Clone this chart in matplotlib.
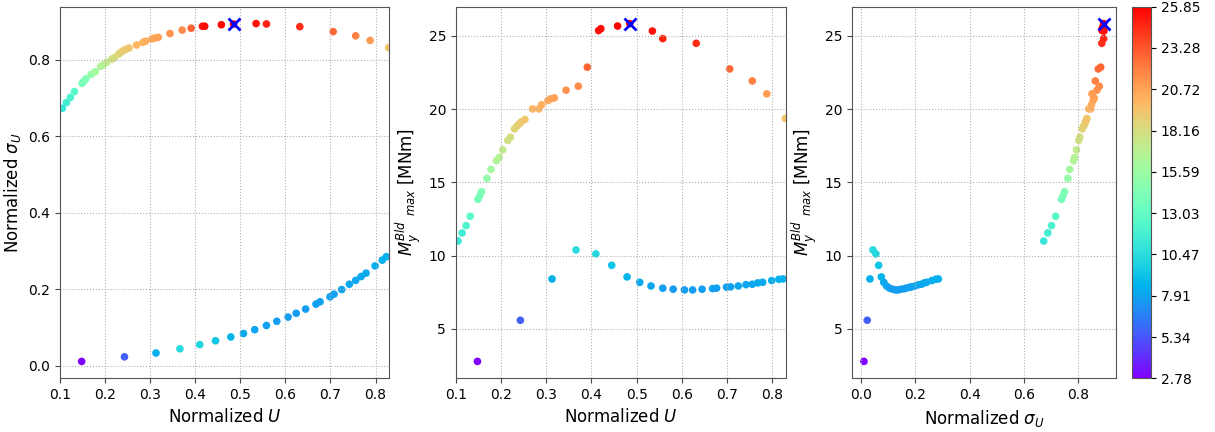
import numpy as np
import matplotlib
matplotlib.use("Agg")
import matplotlib.pyplot as plt
from matplotlib.ticker import MultipleLocator

# upper branch
U_up = [0.105, 0.114, 0.123, 0.132, 0.149, 0.153, 0.157, 0.169, 0.178, 0.190,
        0.196, 0.204, 0.215, 0.221, 0.230, 0.235, 0.240, 0.245, 0.253, 0.270,
        0.284, 0.290, 0.304, 0.310, 0.318, 0.344, 0.371, 0.391, 0.416, 0.421,
        0.458, 0.485, 0.535, 0.558, 0.632, 0.706, 0.756, 0.788, 0.829]
sig_up = [0.673, 0.688, 0.702, 0.717, 0.739, 0.744, 0.750, 0.762, 0.769, 0.783,
          0.787, 0.794, 0.802, 0.806, 0.815, 0.820, 0.824, 0.827, 0.831, 0.839,
          0.846, 0.849, 0.855, 0.857, 0.859, 0.869, 0.878, 0.883, 0.888, 0.888,
          0.892, 0.894, 0.895, 0.894, 0.887, 0.874, 0.863, 0.851, 0.832]
M_up = [11.0, 11.55, 12.05, 12.69, 13.85, 14.09, 14.37, 15.28, 15.89, 16.48,
        16.71, 17.23, 17.87, 18.09, 18.66, 18.84, 18.98, 19.14, 19.30, 20.02,
        20.02, 20.30, 20.60, 20.71, 20.77, 21.30, 21.57, 22.87, 25.37, 25.50,
        25.68, 25.8466, 25.34, 24.82, 24.50, 22.75, 21.93, 21.05, 19.37]

# lower branch
U_lo = [0.148, 0.243, 0.313, 0.366, 0.410, 0.445, 0.479, 0.507, 0.532, 0.558,
        0.581, 0.606, 0.624, 0.645, 0.668, 0.677, 0.699, 0.708, 0.725, 0.742,
        0.756, 0.768, 0.779, 0.799, 0.815, 0.824]
sig_lo = [0.011, 0.023, 0.033, 0.044, 0.055, 0.065, 0.075, 0.084, 0.094, 0.105,
          0.116, 0.127, 0.137, 0.148, 0.161, 0.167, 0.180, 0.187, 0.199, 0.213,
          0.223, 0.233, 0.242, 0.261, 0.276, 0.285]
M_lo = [2.7796, 5.59, 8.41, 10.39, 10.12, 9.34, 8.55, 8.18, 7.93, 7.78,
        7.71, 7.66, 7.66, 7.71, 7.75, 7.78, 7.85, 7.87, 7.93, 8.02,
        8.05, 8.14, 8.18, 8.30, 8.39, 8.41]

U = np.array(U_up + U_lo)
sig = np.array(sig_up + sig_lo)
M = np.array(M_up + M_lo)
imax = np.argmax(M)
vmin, vmax = M.min(), M.max()

fig = plt.figure(figsize=(12.15, 4.32), dpi=100)
bottom, height = 0.1243, 0.8602
ax1 = fig.add_axes([0.0494, bottom, 0.2708, height])
ax2 = fig.add_axes([0.3751, bottom, 0.2716, height])
ax3 = fig.add_axes([0.7012, bottom, 0.2173, height])
cax = fig.add_axes([0.9317, bottom, 0.0156, height])

pairs = [(ax1, U, sig), (ax2, U, M), (ax3, sig, M)]
for ax, x, y in pairs:
    sc = ax.scatter(x, y, c=M, cmap="rainbow", vmin=vmin, vmax=vmax, s=20)
    ax.plot(x[imax], y[imax], "x", color="blue", ms=8, mew=2)
    ax.grid(True, linestyle=":", color="#b0b0b0")
    ax.tick_params(labelsize=10, color="#444444")
    for sp in ax.spines.values():
        sp.set_color("#555555")

for ax in (ax1, ax2):
    ax.set_xlim(0.1, 0.83)
    ax.xaxis.set_major_locator(MultipleLocator(0.1))
ax1.set_xlabel("Normalized $U$", fontsize=12)
ax1.set_ylabel(r"Normalized $\sigma_U$", fontsize=12)
ax2.set_xlabel("Normalized $U$", fontsize=12)
ax2.set_ylabel(r"$M_y^{Bld}\ _{max}$ [MNm]", fontsize=12)
ax3.set_xlabel(r"Normalized $\sigma_U$", fontsize=12)
ax3.set_ylabel(r"$M_y^{Bld}\ _{max}$ [MNm]", fontsize=12)

cb = fig.colorbar(sc, cax=cax, ticks=np.linspace(vmin, vmax, 10), format="%.2f")
cb.ax.tick_params(labelsize=10)
cb.outline.set_edgecolor("#555555")

fig.savefig("out.png", dpi=100)
